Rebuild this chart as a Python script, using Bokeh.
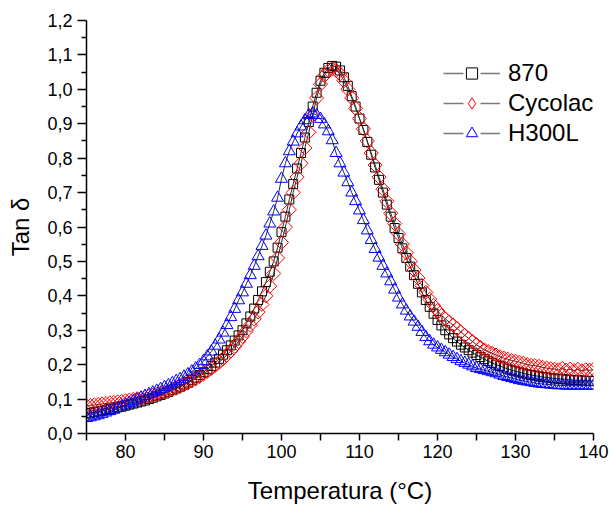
import numpy as np
from bokeh.plotting import figure
from bokeh.models import (FixedTicker, CustomJSTickFormatter, Legend, LegendItem,
                          Range1d, ColumnDataSource)
from bokeh.embed import file_html
from bokeh.resources import INLINE

# ---------------- data ----------------
temperature = [
    75.0, 75.5, 76.0, 76.5, 77.0, 77.5, 78.0, 78.5, 79.0, 79.5,
    80.0, 80.5, 81.0, 81.5, 82.0, 82.5, 83.0, 83.5, 84.0, 84.5,
    85.0, 85.5, 86.0, 86.5, 87.0, 87.5, 88.0, 88.5, 89.0, 89.5,
    90.0, 90.5, 91.0, 91.5, 92.0, 92.5, 93.0, 93.5, 94.0, 94.5,
    95.0, 95.5, 96.0, 96.5, 97.0, 97.5, 98.0, 98.5, 99.0, 99.5,
    100.0, 100.5, 101.0, 101.5, 102.0, 102.5, 103.0, 103.5, 104.0, 104.5,
    105.0, 105.5, 106.0, 106.5, 107.0, 107.5, 108.0, 108.5, 109.0, 109.5,
    110.0, 110.5, 111.0, 111.5, 112.0, 112.5, 113.0, 113.5, 114.0, 114.5,
    115.0, 115.5, 116.0, 116.5, 117.0, 117.5, 118.0, 118.5, 119.0, 119.5,
    120.0, 120.5, 121.0, 121.5, 122.0, 122.5, 123.0, 123.5, 124.0, 124.5,
    125.0, 125.5, 126.0, 126.5, 127.0, 127.5, 128.0, 128.5, 129.0, 129.5,
    130.0, 130.5, 131.0, 131.5, 132.0, 132.5, 133.0, 133.5, 134.0, 134.5,
    135.0, 135.5, 136.0, 136.5, 137.0, 137.5, 138.0, 138.5, 139.0, 139.5,
    140.0,
]

tan_870 = [
    0.058, 0.060, 0.062, 0.064, 0.066, 0.068, 0.071, 0.073, 0.076, 0.078,
    0.081, 0.084, 0.087, 0.090, 0.093, 0.096, 0.100, 0.104, 0.108, 0.112,
    0.116, 0.121, 0.126, 0.131, 0.136, 0.142, 0.148, 0.155, 0.162, 0.170,
    0.178, 0.187, 0.196, 0.206, 0.217, 0.229, 0.242, 0.256, 0.270, 0.285,
    0.300, 0.320, 0.340, 0.363, 0.388, 0.413, 0.440, 0.470, 0.500, 0.540,
    0.585, 0.630, 0.680, 0.725, 0.770, 0.815, 0.860, 0.905, 0.950, 0.990,
    1.025, 1.048, 1.062, 1.068, 1.066, 1.055, 1.035, 1.010, 0.980, 0.950,
    0.915, 0.882, 0.847, 0.810, 0.773, 0.737, 0.700, 0.665, 0.630, 0.597,
    0.568, 0.538, 0.510, 0.485, 0.460, 0.435, 0.410, 0.388, 0.368, 0.348,
    0.330, 0.314, 0.300, 0.288, 0.277, 0.267, 0.258, 0.250, 0.242, 0.235,
    0.228, 0.222, 0.216, 0.210, 0.205, 0.200, 0.196, 0.192, 0.188, 0.184,
    0.181, 0.178, 0.175, 0.172, 0.170, 0.168, 0.166, 0.164, 0.163, 0.161,
    0.160, 0.159, 0.158, 0.157, 0.156, 0.155, 0.155, 0.154, 0.153, 0.153,
    0.152,
]

tan_cycolac = [
    0.080, 0.081, 0.083, 0.084, 0.086, 0.087, 0.089, 0.090, 0.092, 0.093,
    0.095, 0.097, 0.099, 0.101, 0.103, 0.105, 0.108, 0.111, 0.114, 0.117,
    0.120, 0.124, 0.128, 0.132, 0.137, 0.142, 0.147, 0.153, 0.159, 0.166,
    0.173, 0.181, 0.189, 0.198, 0.207, 0.217, 0.228, 0.240, 0.253, 0.267,
    0.282, 0.298, 0.315, 0.333, 0.353, 0.375, 0.400, 0.428, 0.465, 0.510,
    0.555, 0.600, 0.650, 0.700, 0.745, 0.785, 0.830, 0.875, 0.925, 0.975,
    1.015, 1.040, 1.055, 1.060, 1.055, 1.045, 1.025, 1.000, 0.975, 0.945,
    0.915, 0.885, 0.850, 0.815, 0.780, 0.745, 0.710, 0.675, 0.640, 0.610,
    0.580, 0.550, 0.525, 0.500, 0.475, 0.452, 0.430, 0.410, 0.390, 0.372,
    0.357, 0.343, 0.333, 0.324, 0.315, 0.305, 0.295, 0.285, 0.276, 0.267,
    0.258, 0.250, 0.243, 0.238, 0.233, 0.228, 0.223, 0.219, 0.216, 0.212,
    0.210, 0.207, 0.204, 0.200, 0.198, 0.197, 0.195, 0.192, 0.190, 0.188,
    0.187, 0.185, 0.189, 0.184, 0.187, 0.183, 0.186, 0.182, 0.185, 0.184,
    0.186,
]

tan_h300l = [
    0.045, 0.047, 0.050, 0.053, 0.057, 0.061, 0.065, 0.069, 0.074, 0.079,
    0.084, 0.089, 0.094, 0.099, 0.104, 0.109, 0.114, 0.119, 0.124, 0.129,
    0.135, 0.140, 0.146, 0.152, 0.158, 0.165, 0.172, 0.180, 0.189, 0.199,
    0.210, 0.224, 0.238, 0.255, 0.273, 0.293, 0.315, 0.338, 0.362, 0.387,
    0.410, 0.435, 0.460, 0.487, 0.515, 0.545, 0.575, 0.610, 0.645, 0.685,
    0.740, 0.785, 0.820, 0.848, 0.872, 0.892, 0.910, 0.925, 0.930, 0.925,
    0.914, 0.898, 0.878, 0.852, 0.815, 0.785, 0.758, 0.730, 0.700, 0.675,
    0.648, 0.620, 0.590, 0.562, 0.536, 0.511, 0.487, 0.465, 0.442, 0.418,
    0.395, 0.375, 0.357, 0.340, 0.325, 0.310, 0.295, 0.280, 0.268, 0.258,
    0.250, 0.243, 0.236, 0.229, 0.222, 0.216, 0.210, 0.205, 0.200, 0.195,
    0.190, 0.187, 0.184, 0.181, 0.178, 0.175, 0.171, 0.167, 0.164, 0.161,
    0.158, 0.155, 0.153, 0.151, 0.149, 0.147, 0.145, 0.144, 0.143, 0.142,
    0.141, 0.140, 0.140, 0.139, 0.139, 0.139, 0.139, 0.139, 0.139, 0.139,
    0.139,
]

series_names = ["870", "Cycolac", "H300L"]
x_major = [80, 90, 100, 110, 120, 130, 140]
x_minor = [75, 85, 95, 105, 115, 125, 135]
y_major = [0.0, 0.1, 0.2, 0.3, 0.4, 0.5, 0.6, 0.7, 0.8, 0.9, 1.0, 1.1, 1.2]
y_minor = [0.05, 0.15, 0.25, 0.35, 0.45, 0.55, 0.65, 0.75, 0.85, 0.95, 1.05, 1.15]

FONT = "Liberation Sans"

p = figure(width=609, height=506, output_backend="svg", toolbar_location=None,
           x_range=Range1d(75, 140), y_range=Range1d(0, 1.2),
           min_border_left=86, min_border_right=16, min_border_top=20,
           min_border_bottom=73)
p.outline_line_color = None
p.grid.visible = False
p.background_fill_color = "white"

src = ColumnDataSource(dict(t=temperature, a=tan_870, b=tan_cycolac, c=tan_h300l))

line_col = "#2a2a2a"
l1 = p.line("t", "a", source=src, line_color=line_col, line_width=1)
s1 = p.scatter("t", "a", source=src, marker="square", size=9,
               line_color="black", fill_color=None, line_width=1)
l2 = p.line("t", "b", source=src, line_color=line_col, line_width=1)
s2 = p.scatter("t", "b", source=src, marker="square", angle=np.pi / 4, size=10,
               line_color="#ff0000", fill_color=None, line_width=1)
l3 = p.line("t", "c", source=src, line_color=line_col, line_width=1)
s3 = p.scatter("t", "c", source=src, marker="triangle", size=12,
               line_color="#0000ff", fill_color=None, line_width=1)

# legend-only sample glyphs (their single point lies outside the visible ranges)
leg_src = ColumnDataSource(dict(t=[-100.0], v=[-100.0]))
leg_markers = [("square", "black"), ("diamond", "#ff0000"), ("triangle", "#0000ff")]
items = []
for name, (mk, col) in zip(series_names, leg_markers):
    lr = p.line("t", "v", source=leg_src, line_color="#7a7a7a", line_width=1.5,
                line_dash="20 17")
    sr = p.scatter("t", "v", source=leg_src, marker=mk, line_color=col,
                   fill_color=None, line_width=1)
    items.append(LegendItem(label=name, renderers=[lr, sr]))

# axes
for ax in (p.xaxis[0], p.yaxis[0]):
    ax.axis_line_color = "black"
    ax.axis_line_width = 1.5
    ax.major_tick_line_color = "black"
    ax.minor_tick_line_color = "black"
    ax.major_tick_line_width = 1.5
    ax.minor_tick_line_width = 1.5
    ax.major_tick_in = 0
    ax.minor_tick_in = 0
    ax.major_label_text_font = FONT
    ax.major_label_text_font_size = "18px"
    ax.major_label_text_color = "black"
    ax.axis_label_text_font = FONT
    ax.axis_label_text_font_size = "24px"
    ax.axis_label_text_font_style = "normal"
    ax.axis_label_text_color = "black"

p.xaxis.ticker = FixedTicker(ticks=x_major, minor_ticks=x_minor)
p.xaxis.major_tick_out = 7
p.xaxis.minor_tick_out = 7
p.xaxis.major_label_standoff = 4
p.xaxis.axis_label = "Temperatura (°C)"
p.xaxis.axis_label_standoff = 16

p.yaxis.ticker = FixedTicker(ticks=y_major, minor_ticks=y_minor)
p.yaxis.formatter = CustomJSTickFormatter(code="return tick.toFixed(1).replace('.', ',');")
p.yaxis.major_tick_out = 9
p.yaxis.minor_tick_out = 5
p.yaxis.major_label_standoff = 5
p.yaxis.axis_label = "Tan δ"
p.yaxis.axis_label_standoff = 10

legend = Legend(items=items, location=(357, 286))
legend.border_line_color = None
legend.background_fill_alpha = 0
legend.padding = 0
legend.margin = 0
legend.spacing = 2
legend.glyph_width = 57
legend.glyph_height = 28
legend.label_height = 28
legend.label_standoff = 8
legend.label_text_font = FONT
legend.label_text_font_size = "24px"
legend.label_text_color = "black"
p.add_layout(legend)

open("out.html", "w").write(file_html(p, INLINE))
